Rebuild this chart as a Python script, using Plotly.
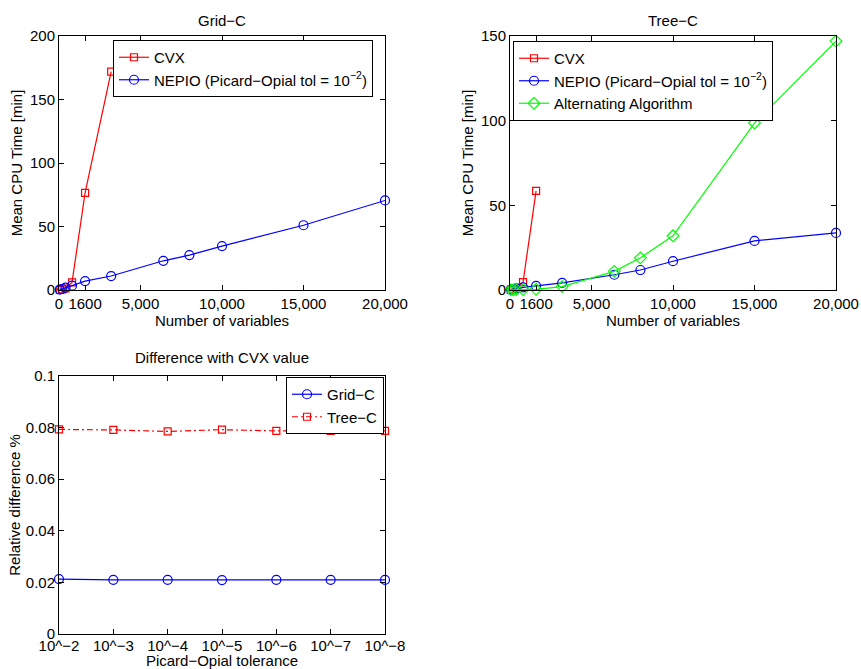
import plotly.graph_objects as go

# ---------------- data ----------------
nvars = [50, 200, 400, 800, 1600, 3200, 6400, 8000, 10000, 15000, 20000]
nvars_cvx_grid = [50, 200, 400, 800, 1600, 3200]
nvars_cvx_tree = [50, 200, 400, 800, 1600]

grid_cvx = [0.1, 0.4, 1.2, 6.0, 76.5, 172.0]
grid_nepio = [0.3, 0.8, 1.8, 3.4, 7.0, 11.0, 23.0, 27.5, 34.6, 51.0, 70.5]

tree_cvx = [0.1, 0.3, 0.8, 4.6, 58.5]
tree_nepio = [0.2, 0.5, 1.0, 1.6, 2.4, 4.2, 9.0, 11.8, 17.0, 29.0, 33.7]
tree_alt = [0.05, 0.1, 0.2, 0.3, 0.4, 2.0, 11.0, 19.0, 32.0, 98.6, 147.0]

tol_pos = [1, 2, 3, 4, 5, 6, 7]
tol_labels = ["10^−2", "10^−3", "10^−4", "10^−5", "10^−6", "10^−7", "10^−8"]
diff_grid = [0.0213, 0.0210, 0.0210, 0.0209, 0.0210, 0.0210, 0.0210]
diff_tree = [0.0793, 0.0791, 0.0785, 0.0792, 0.0787, 0.0787, 0.0787]

xtick_vals = [0, 1600, 5000, 10000, 15000, 20000]
xtick_text = ["0", "1600", "5,000", "10,000", "15,000", "20,000"]

# ---------------- layout geometry ----------------
W, H = 861, 669
def px_x(a, b):
    return [a / W, b / W]
def px_y(top, bottom):
    return [1 - bottom / H, 1 - top / H]

FONT = "Liberation Sans, Arial, Helvetica, sans-serif"
FS = 15
RED, BLUE, GREEN = "#ff0000", "#0000ff", "#00ff00"

fig = go.Figure()

def add(x, y, color, symbol, name, xa, ya, legend, dash="solid", size=7):
    fig.add_trace(go.Scatter(
        x=x, y=y, mode="lines+markers", name=name,
        line=dict(color=color, width=1.2, dash=dash),
        marker=dict(symbol=symbol, size=size, color=color,
                    line=dict(color=color, width=1.2)),
        xaxis=xa, yaxis=ya, legend=legend, cliponaxis=False,
    ))

nepio_name = "NEPIO (Picard−Opial tol = 10<sup>−2</sup>)"

# Grid-C
add(nvars_cvx_grid, grid_cvx, RED, "square-open", "CVX", "x", "y", "legend", size=7)
add(nvars, grid_nepio, BLUE, "circle-open", nepio_name, "x", "y", "legend", size=9)
# Tree-C
add(nvars_cvx_tree, tree_cvx, RED, "square-open", "CVX", "x2", "y2", "legend2", size=7)
add(nvars, tree_nepio, BLUE, "circle-open", nepio_name, "x2", "y2", "legend2", size=9)
add(nvars, tree_alt, GREEN, "diamond-open", "Alternating Algorithm", "x2", "y2", "legend2", size=9)
# Difference
add(tol_pos, diff_grid, BLUE, "circle-open", "Grid−C", "x3", "y3", "legend3", size=9)
add(tol_pos, diff_tree, RED, "square-open", "Tree−C", "x3", "y3", "legend3",
    dash="6px,3px,2px,3px", size=7)

axis_common = dict(showline=True, linecolor="black", linewidth=1, mirror="ticks",
                   ticks="inside", ticklen=5, tickwidth=1, tickcolor="black",
                   showgrid=False, zeroline=False, automargin=False,
                   tickfont=dict(family=FONT, size=FS, color="black"),
                   title_font=dict(family=FONT, size=FS, color="black"))

leg_common = dict(yanchor="top", bgcolor="white",
                  bordercolor="black", borderwidth=1,
                  font=dict(family=FONT, size=FS, color="black"), tracegroupgap=0)

fig.update_layout(
    width=W, height=H,
    margin=dict(l=0, r=0, t=0, b=0),
    paper_bgcolor="white", plot_bgcolor="white",
    font=dict(family=FONT, size=FS, color="black"),
    xaxis=dict(domain=px_x(59, 385), range=[0, 20000], anchor="y",
               tickmode="array", tickvals=xtick_vals, ticktext=xtick_text,
               title=dict(text="Number of variables", standoff=0), **axis_common),
    yaxis=dict(domain=px_y(36, 290), range=[0, 200], anchor="x",
               tickmode="array", tickvals=[0, 50, 100, 150, 200],
               title=dict(text="Mean CPU Time [min]", standoff=3), **axis_common),
    xaxis2=dict(domain=px_x(510, 836), range=[0, 20000], anchor="y2",
                tickmode="array", tickvals=xtick_vals, ticktext=xtick_text,
                title=dict(text="Number of variables", standoff=0), **axis_common),
    yaxis2=dict(domain=px_y(36, 290), range=[0, 150], anchor="x2",
                tickmode="array", tickvals=[0, 50, 100, 150],
                title=dict(text="Mean CPU Time [min]", standoff=3), **axis_common),
    xaxis3=dict(domain=px_x(59, 385), range=[1, 7], anchor="y3",
                tickmode="array", tickvals=tol_pos, ticktext=tol_labels,
                ticklabelstandoff=-2,
                title=dict(text="Picard−Opial tolerance", standoff=3), **axis_common),
    yaxis3=dict(domain=px_y(376, 634), range=[0, 0.1], anchor="x3",
                tickmode="array", tickvals=[0, 0.02, 0.04, 0.06, 0.08, 0.1],
                ticktext=["0", "0.02", "0.04", "0.06", "0.08", "0.1"],
                title=dict(text="Relative difference %", standoff=1), **axis_common),
    legend=dict(x=113 / W, y=1 - 40 / H, xanchor="left", **leg_common),
    legend2=dict(x=513 / W, y=1 - 41 / H, xanchor="left", **leg_common),
    legend3=dict(x=384 / W, y=1 - 377 / H, xanchor="right", **leg_common),
    showlegend=True,
)

titles = [("Grid−C", 222, 20), ("Tree−C", 673, 20), ("Difference with CVX value", 222, 357)]
for text, cx, cy in titles:
    fig.add_annotation(text=text, x=cx / W, y=1 - cy / H, xref="paper", yref="paper",
                       showarrow=False, xanchor="center", yanchor="middle",
                       font=dict(family=FONT, size=FS, color="black"))

fig.write_html("out.html")
